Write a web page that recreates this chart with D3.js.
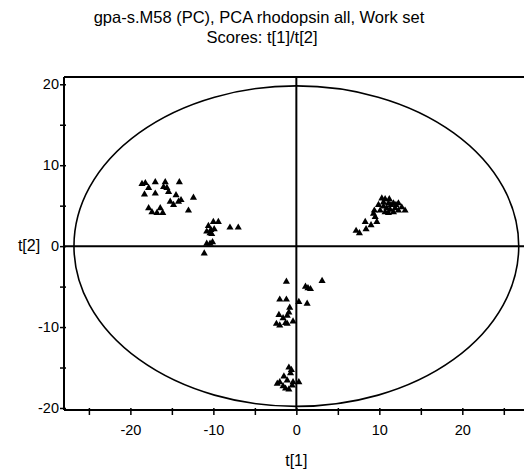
<!DOCTYPE html>
<html>
<head>
<meta charset="utf-8">
<script src="https://cdn.jsdelivr.net/npm/d3@7"></script>
<style>
  body { margin: 0; background: #fff; }
  text { font-family: "Liberation Sans", Arial, sans-serif; fill: #000; }
</style>
</head>
<body>
<div class="chart"></div>
<script>
var t1 = [
    -18.6, -18.2, -17.8, -18.3, -17.0, -17.0, -15.8, -16.0, -15.6, -15.4, -14.1, -14.5,
    -15.2, -14.8, -14.2, -13.9, -12.4, -17.8, -17.4, -16.8, -16.4, -16.1, -13.0,
    -10.0, -9.4, -10.6, -10.3, -9.9, -10.8, -10.4, -10.2, -10.8, -10.4, -10.1, -11.1, -8.0, -7.0,
    10.3, 10.7, 11.2, 11.7, 12.3, 13.1, 9.9, 10.5, 10.9, 11.3, 11.9, 12.3, 11.1, 10.7, 11.7,
    10.1, 11.4, 12.0, 12.7, 10.5, 11.1, 9.4, 9.3, 9.5, 9.7, 8.3, 9.0, 8.4, 7.2, 7.6,
    -1.2, 3.1, 1.1, 1.4, 1.7, -2.0, -1.2, 0.3, 1.3, -0.8, -0.9, -2.1, -1.6, -1.1, -2.4, -2.0,
    -1.3, -1.1, -0.4,
    -0.9, -0.6, -1.5, -2.0, -2.3, -1.1, -0.4, 0.3, -1.3, -1.6, -0.9, -0.5, -0.7
];
var t2 = [
    7.7, 7.8, 7.2, 6.4, 7.9, 6.5, 7.9, 7.3, 7.2, 6.7, 7.9, 6.3,
    5.5, 5.1, 5.5, 5.7, 6.0, 4.7, 4.2, 4.1, 4.7, 4.1, 4.4,
    3.0, 3.0, 2.5, 2.0, 2.1, 1.8, 1.6, 1.5, 0.3, 0.3, 0.5, -0.9, 2.3, 2.3,
    5.9, 5.8, 5.8, 5.3, 5.3, 4.4, 5.1, 4.9, 4.7, 4.5, 4.7, 4.4, 4.1, 4.2, 4.2,
    4.4, 5.1, 5.1, 4.8, 5.4, 5.3, 4.4, 4.0, 3.6, 3.0, 3.0, 2.6, 2.1, 1.9, 1.6,
    -4.4, -4.3, -5.0, -5.2, -5.3, -6.6, -6.6, -6.9, -7.1, -7.6, -8.2, -8.5, -8.9, -8.6, -9.6, -9.8,
    -9.5, -9.6, -9.3,
    -15.0, -15.3, -16.1, -16.8, -17.0, -16.6, -16.8, -16.8, -17.6, -17.3, -17.7, -17.2, -15.7
];

//Hotelling T2 ellipse semi-axes
var ellipseA = 26.8;
var ellipseB = 19.8;

var xTicks = [-25, -20, -15, -10, -5, 0, 5, 10, 15, 20, 25];
var xLabels = [-20, -10, 0, 10, 20];
var yTicks = [-20, -15, -10, -5, 0, 5, 10, 15, 20];
var yLabels = [-20, -10, 0, 10, 20];

var w = 524;
var h = 473;

var svg = d3.select(".chart")
    .append("svg")
    .attr("width", w)
    .attr("height", h);

var xScale = d3.scaleLinear()
    .domain([-28, 29])
    .range([64, 537]);

var yScale = d3.scaleLinear()
    .domain([-20.25, 20.9])
    .range([410, 77]);

var xLeft = xScale.range()[0], xRight = xScale.range()[1];
var yTop = yScale.range()[1], yBottom = yScale.range()[0];

//Title
svg.append("text")
    .attr("x", 259)
    .attr("y", 23)
    .attr("text-anchor", "middle")
    .style("font-size", "16.5px")
    .text("gpa-s.M58 (PC), PCA rhodopsin all, Work set");
svg.append("text")
    .attr("x", 262)
    .attr("y", 43)
    .attr("text-anchor", "middle")
    .style("font-size", "16.5px")
    .text("Scores: t[1]/t[2]");

//Ellipse
svg.append("ellipse")
    .attr("cx", xScale(0))
    .attr("cy", yScale(0))
    .attr("rx", xScale(ellipseA) - xScale(0))
    .attr("ry", yScale(0) - yScale(ellipseB))
    .attr("fill", "none")
    .attr("stroke", "#000")
    .attr("stroke-width", 1.6);

//Frame and zero lines
svg.append("line")
    .attr("x1", xLeft).attr("x2", xRight)
    .attr("y1", yTop).attr("y2", yTop)
    .attr("stroke", "#000").attr("stroke-width", 2);
svg.append("line")
    .attr("x1", xLeft).attr("x2", xRight)
    .attr("y1", yScale(0)).attr("y2", yScale(0))
    .attr("stroke", "#000").attr("stroke-width", 2);
svg.append("line")
    .attr("x1", xScale(0)).attr("x2", xScale(0))
    .attr("y1", yTop).attr("y2", yBottom)
    .attr("stroke", "#000").attr("stroke-width", 2);

//Axes
var xAxis = d3.axisBottom(xScale)
    .tickValues(xTicks)
    .tickSize(5)
    .tickFormat(d => xLabels.indexOf(d) >= 0 ? d : "");
var gx = svg.append("g")
    .attr("transform", "translate(0, " + yBottom + ")")
    .call(xAxis);
gx.select(".domain").remove();
gx.append("line")
    .attr("x1", xLeft).attr("x2", xRight)
    .attr("stroke", "#000").attr("stroke-width", 2);
gx.selectAll(".tick line").attr("stroke", "#000").attr("stroke-width", 1.5).attr("y1", -2);
gx.selectAll(".tick text")
    .attr("y", 20)
    .attr("dy", "0.32em")
    .attr("fill", "#000")
    .style("font-size", "14.5px")
    .style("font-family", "'Liberation Sans', Arial, sans-serif");

var yAxis = d3.axisLeft(yScale)
    .tickValues(yTicks)
    .tickSize(4)
    .tickFormat(d => yLabels.indexOf(d) >= 0 ? d : "");
var gy = svg.append("g")
    .attr("transform", "translate(" + xLeft + ", 0)")
    .call(yAxis);
gy.select(".domain").remove();
gy.append("line")
    .attr("y1", yTop).attr("y2", yBottom)
    .attr("stroke", "#000").attr("stroke-width", 2);
gy.selectAll(".tick line").attr("stroke", "#000").attr("stroke-width", 1.5).attr("x1", 2);
gy.selectAll(".tick text")
    .attr("x", -5)
    .attr("fill", "#000")
    .style("font-size", "14.5px")
    .style("font-family", "'Liberation Sans', Arial, sans-serif");

//Axis titles
svg.append("text")
    .attr("x", xScale(0))
    .attr("y", 466)
    .attr("text-anchor", "middle")
    .style("font-size", "16px")
    .text("t[1]");
svg.append("text")
    .attr("x", 29)
    .attr("y", yScale(0))
    .attr("dy", "0.32em")
    .attr("text-anchor", "middle")
    .style("font-size", "16px")
    .text("t[2]");

//Points
var points = t1.map((d, i) => ({ x: d, y: t2[i] }));
svg.selectAll(".pt")
    .data(points)
    .enter()
    .append("path")
    .attr("class", "pt")
    .attr("d", d3.symbol().type(d3.symbolTriangle).size(22))
    .attr("transform", d => "translate(" + xScale(d.x) + "," + yScale(d.y) + ")")
    .attr("fill", "#000");
</script>
</body>
</html>
